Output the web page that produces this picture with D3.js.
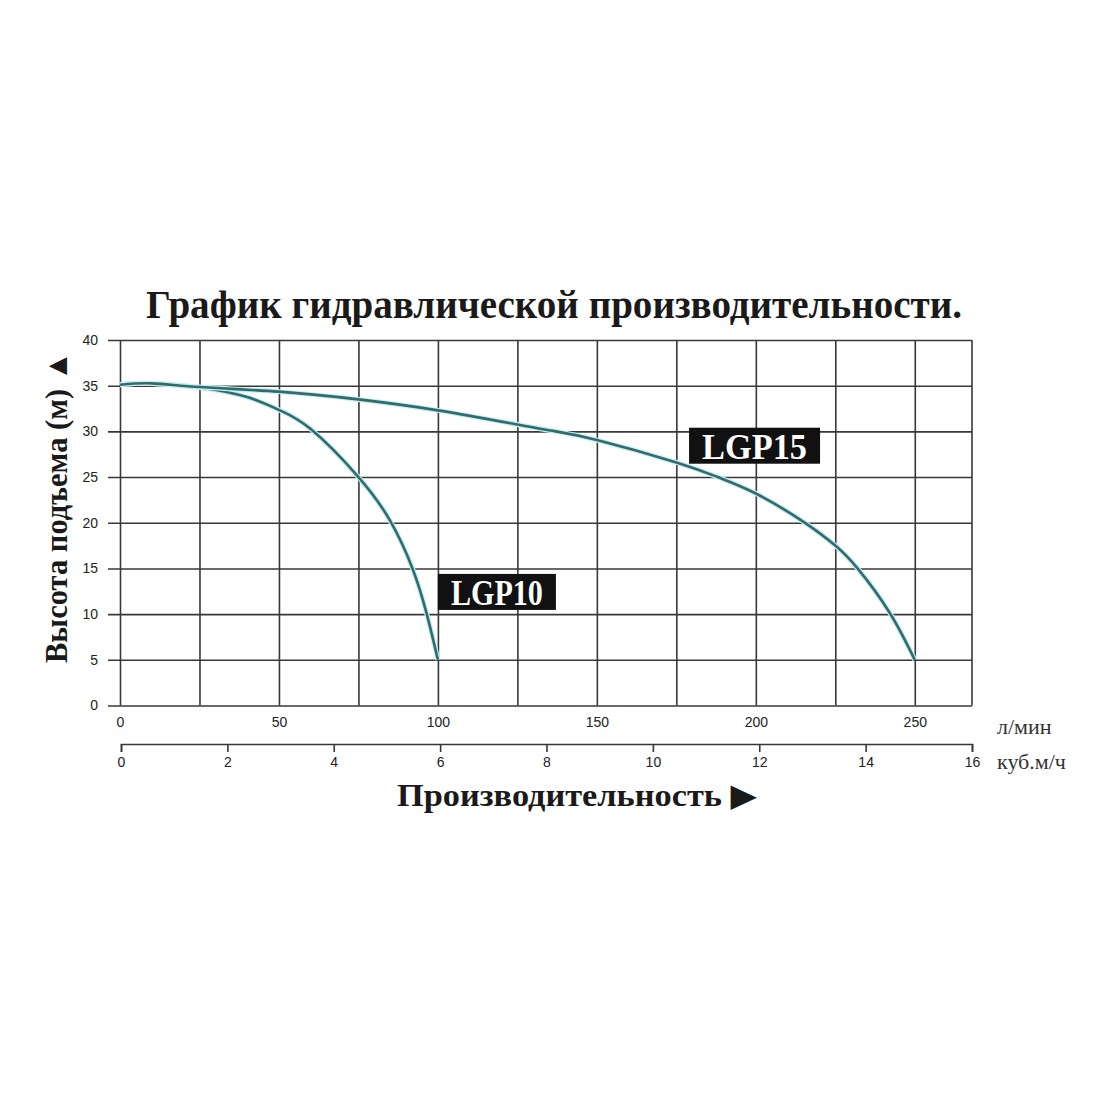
<!DOCTYPE html>
<html>
<head>
<meta charset="utf-8">
<script src="https://cdn.jsdelivr.net/npm/d3@7"></script>
<style>
  html, body { margin: 0; background: #fff; }
  svg { display: block; }
</style>
</head>
<body>
<svg id="chart" width="1100" height="1100"></svg>
<script>
// head axis (m) and flow axes (l/min, m3/h)
const headTicks = [0, 5, 10, 15, 20, 25, 30, 35, 40];
const gridFlow = [0, 25, 50, 75, 100, 125, 150, 175, 200, 225, 250];
const lpmTicks = [0, 50, 100, 150, 200, 250];
const m3hTicks = [0, 2, 4, 6, 8, 10, 12, 14, 16];

// pump curves: flow l/min -> head m
const lgp10Flow = [0, 10, 25, 40, 50, 60, 75, 85, 92, 96.5, 100];
const lgp10Head = [35.1, 35.25, 34.8, 33.75, 32.35, 30.25, 25.0, 20.2, 15.0, 10.0, 5.0];
const lgp15Flow = [0, 10, 25, 50, 75, 100, 125, 137, 150, 175, 188, 200, 215, 225, 232, 242, 250];
const lgp15Head = [35.1, 35.25, 34.85, 34.35, 33.5, 32.3, 30.75, 30.0, 29.05, 26.6, 25.0, 23.2, 20.1, 17.5, 15.0, 10.2, 5.0];

const series = [
  { name: 'LGP10', flow: lgp10Flow, head: lgp10Head, tag: [100, 14.4] },
  { name: 'LGP15', flow: lgp15Flow, head: lgp15Head, tag: [179, 30.4] },
];

const svg = d3.select('#chart');
const serif = '"Liberation Serif", "DejaVu Serif", serif';
const sans = '"Liberation Sans", Arial, sans-serif';

const pL = 120, pR = 972, pT = 340, pB = 705.5;
const x = d3.scaleLinear([0, 268], [pL, pR]);
const xm = d3.scaleLinear([0, 16], [pL + 1, pR]);
const y = d3.scaleLinear([0, 40], [pB, pT]);

svg.append('rect').attr('width', 1100).attr('height', 1100).attr('fill', '#fff');

svg.append('text')
  .attr('x', 554).attr('y', 318).attr('text-anchor', 'middle')
  .attr('font-family', serif).attr('font-weight', 'bold').attr('font-size', 39)
  .attr('textLength', 816).attr('lengthAdjust', 'spacingAndGlyphs')
  .attr('fill', '#1a1a1a')
  .text('График гидравлической производительности.');

// horizontal grid + head labels
const yAxis = svg.append('g').attr('transform', `translate(${pL - 12},0)`)
  .call(d3.axisLeft(y).tickValues(headTicks).tickSize(-(pR - pL + 12)).tickPadding(10));
yAxis.select('.domain').remove();
yAxis.selectAll('line').attr('stroke', '#383838').attr('stroke-width', 1.6);
yAxis.selectAll('text').attr('font-family', sans).attr('font-size', 14).attr('fill', '#222');

// vertical grid
const xGrid = svg.append('g').attr('transform', `translate(0,${pB})`)
  .call(d3.axisBottom(x).tickValues(gridFlow).tickSize(-(pB - pT)).tickFormat(''));
xGrid.select('.domain').remove();
xGrid.selectAll('line').attr('stroke', '#383838').attr('stroke-width', 1.6);

svg.append('line').attr('x1', pR).attr('x2', pR).attr('y1', pT).attr('y2', pB)
  .attr('stroke', '#383838').attr('stroke-width', 1.6);

// l/min labels
const xLab = svg.append('g').attr('transform', `translate(0,${pB})`)
  .call(d3.axisBottom(x).tickValues(lpmTicks).tickSize(0).tickPadding(12));
xLab.select('.domain').remove();
xLab.selectAll('text').attr('font-family', sans).attr('font-size', 14).attr('fill', '#222');

// m3/h axis
const xmAxis = svg.append('g').attr('transform', 'translate(0,744)')
  .call(d3.axisBottom(xm).tickValues(m3hTicks).tickSize(8).tickSizeOuter(8).tickPadding(5));
xmAxis.selectAll('path, line').attr('stroke', '#383838').attr('stroke-width', 1.6);
xmAxis.selectAll('text').attr('font-family', sans).attr('font-size', 14).attr('fill', '#222');

svg.append('text').attr('x', 997).attr('y', 734)
  .attr('font-family', serif).attr('font-size', 22).attr('fill', '#333').text('л/мин');
svg.append('text').attr('x', 997).attr('y', 769)
  .attr('font-family', serif).attr('font-size', 22).attr('fill', '#333').text('куб.м/ч');

// curves
const line = d3.line().x((d) => x(d[0])).y((d) => y(d[1])).curve(d3.curveNatural);
series.forEach((s) => {
  const pts = s.flow.map((f, i) => [f, s.head[i]]);
  svg.append('path').datum(pts).attr('d', line).attr('fill', 'none')
    .attr('stroke', '#c9ecee').attr('stroke-width', 5);
  svg.append('path').datum(pts).attr('d', line).attr('fill', 'none')
    .attr('stroke', '#2f6c70').attr('stroke-width', 2.6);
});

// name tags
series.forEach((s) => {
  const g = svg.append('g').attr('transform', `translate(${x(s.tag[0])},${y(s.tag[1])})`);
  const w = s.name === 'LGP15' ? 131 : 118;
  g.append('rect').attr('width', w).attr('height', 36).attr('fill', '#111');
  g.append('text').attr('x', w / 2).attr('y', 31).attr('text-anchor', 'middle')
    .attr('font-family', serif).attr('font-weight', 'bold').attr('font-size', 36)
    .attr('textLength', w - 26).attr('lengthAdjust', 'spacingAndGlyphs')
    .attr('fill', '#fff').text(s.name);
});

// axis titles
svg.append('text')
  .attr('transform', 'translate(67,507) rotate(-90)').attr('text-anchor', 'middle')
  .attr('font-family', serif).attr('font-weight', 'bold').attr('font-size', 31)
  .attr('textLength', 312).attr('lengthAdjust', 'spacingAndGlyphs')
  .attr('fill', '#1a1a1a').text('Высота подъема (м) ▲');
svg.append('text')
  .attr('x', 577).attr('y', 806).attr('text-anchor', 'middle')
  .attr('font-family', serif).attr('font-weight', 'bold').attr('font-size', 32)
  .attr('textLength', 360).attr('lengthAdjust', 'spacingAndGlyphs')
  .attr('fill', '#1a1a1a').text('Производительность ▶');
</script>
</body>
</html>
